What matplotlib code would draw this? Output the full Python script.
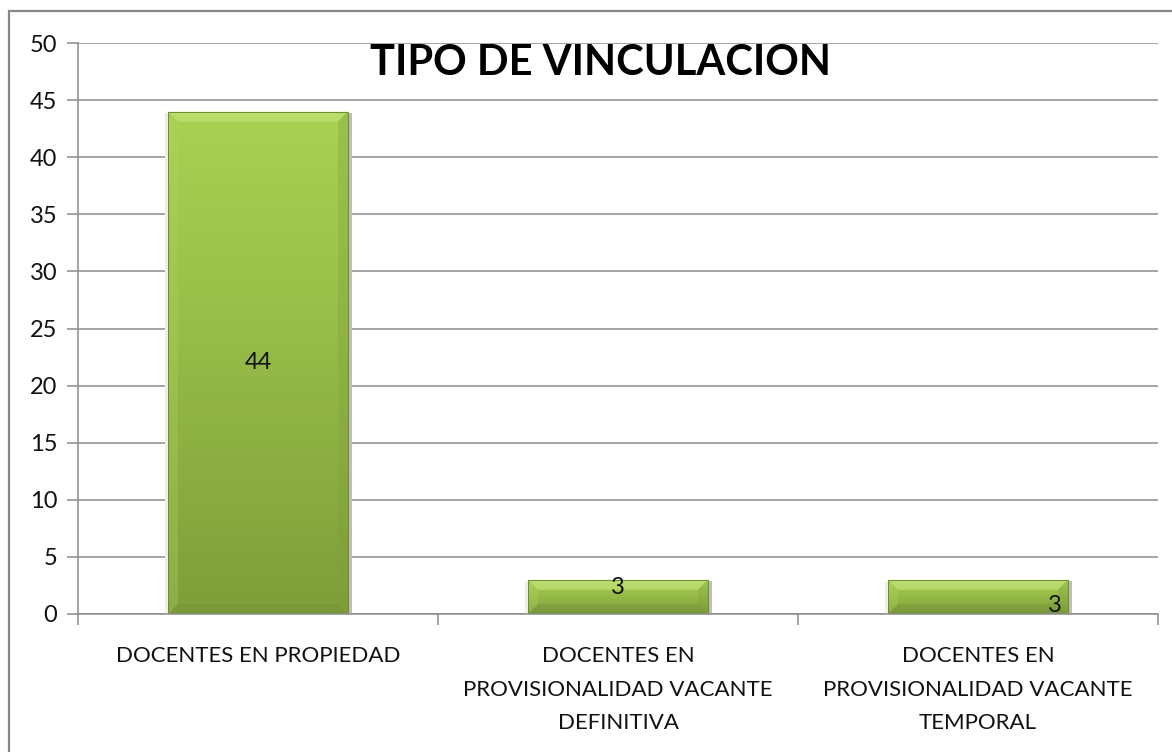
import numpy as np
import matplotlib
matplotlib.use("Agg")
import matplotlib.pyplot as plt
from matplotlib.patches import Polygon, Rectangle
from matplotlib.colors import LinearSegmentedColormap

categories = ["DOCENTES EN PROPIEDAD",
              "DOCENTES EN\nPROVISIONALIDAD VACANTE\nDEFINITIVA",
              "DOCENTES EN\nPROVISIONALIDAD VACANTE\nTEMPORAL"]
values = [44, 3, 3]
title = "TIPO DE VINCULACION"
yticks = [0, 5, 10, 15, 20, 25, 30, 35, 40, 45, 50]

plt.rcParams['font.family'] = ['Lato', 'DejaVu Sans']

W, H = 1172, 752
fig = plt.figure(figsize=(W / 100, H / 100), dpi=100)
fig.patch.set_facecolor("white")
# outer chart border
fig.add_artist(Rectangle((9 / W, -0.05), 1.2, 1 - 11 / H + 0.05, transform=fig.transFigure,
                         fill=False, edgecolor="#878787", linewidth=1.6))

L, R, T, B = 78, 1158, 43, 614
ax = fig.add_axes([L / W, 1 - B / H, (R - L) / W, (B - T) / H])
ax.set_xlim(-0.5, len(categories) - 0.5)
ax.set_ylim(0, 50)
ax.set_yticks(yticks)
ax.set_yticklabels([str(v) for v in yticks], fontsize=17, color="#111111")
ax.yaxis.grid(True, color="#8c8c8c", linewidth=1.1)
ax.set_axisbelow(True)
for s in ["top", "right"]:
    ax.spines[s].set_visible(False)
for s in ["left", "bottom"]:
    ax.spines[s].set_color("#8c8c8c")
    ax.spines[s].set_linewidth(1.1)
ax.tick_params(axis="y", length=8, width=1.1, color="#8c8c8c", pad=7)
# category boundary ticks on x
ax.set_xticks(np.arange(-0.5, len(categories), 1.0))
ax.set_xticklabels([])
ax.tick_params(axis="x", length=8, width=1.1, color="#8c8c8c")
ax.set_xticks(np.arange(len(categories)), minor=True)
ax.set_xticklabels(categories, minor=True, fontsize=16, color="#111111", linespacing=1.85, va="top")
ax.tick_params(axis="x", which="minor", length=0, pad=23)

px_x = (len(categories)) / (R - L)   # data units per pixel
px_y = 50 / (B - T)

cmap = LinearSegmentedColormap.from_list("g", ["#7E9E3A", "#8DB043", "#9CC24B", "#A9D152"])
bw = 0.5
bars = ax.bar(range(len(values)), values, width=bw, color="#9BC04A", zorder=2, linewidth=0)
for i, (b, v) in enumerate(zip(bars, values)):
    x0, x1 = i - bw / 2, i + bw / 2
    # soft shadow
    ax.add_patch(Rectangle((x1, 0), 4 * px_x, v - 1 * px_y, color="#bdbdbd", zorder=1.5, lw=0))
    ax.add_patch(Rectangle((x0 - 3 * px_x, 0), 3 * px_x, v - 1 * px_y, color="#ececec", zorder=1.5, lw=0))
    grad = np.linspace(0, 1, 256).reshape(-1, 1)
    im = ax.imshow(grad, extent=(x0, x1, 0, v), origin="lower", cmap=cmap,
                   aspect="auto", zorder=2.1)
    im.set_clip_path(b)
    d = 10
    dx, dy = d * px_x, d * px_y
    # top bevel (light)
    ax.add_patch(Polygon([(x0, v), (x1, v), (x1 - dx, v - dy), (x0 + dx, v - dy)],
                         closed=True, color="#C6E67E", lw=0, zorder=2.2, alpha=0.6))
    # bottom bevel (dark)
    ax.add_patch(Polygon([(x0, 0), (x1, 0), (x1 - dx, dy), (x0 + dx, dy)],
                         closed=True, color="#6E8B33", lw=0, zorder=2.2, alpha=0.3))
    # left bevel
    ax.add_patch(Polygon([(x0, 0), (x0, v), (x0 + dx, v - dy), (x0 + dx, dy)],
                         closed=True, color="#B0D460", lw=0, zorder=2.2, alpha=0.3))
    # right bevel
    ax.add_patch(Polygon([(x1, 0), (x1, v), (x1 - dx, v - dy), (x1 - dx, dy)],
                         closed=True, color="#7E9E3A", lw=0, zorder=2.2, alpha=0.3))
    ax.add_patch(Rectangle((x0, 0), bw, v, fill=False, edgecolor="#6f8a34", lw=0.7, zorder=2.3))

# data labels (positions as in the reference)
ax.text(0, values[0] / 2, str(values[0]), ha="center", va="center", fontsize=17, color="#111111", zorder=3)
ax.text(1, values[1] - 8 * px_y, str(values[1]), ha="center", va="center", fontsize=17, color="#111111", zorder=3)
ax.text(2 + 77 * px_x, 8 * px_y, str(values[2]), ha="center", va="center", fontsize=17, color="#111111", zorder=3)

ax.text(0.484, 0.965, title, transform=ax.transAxes, ha="center", va="center",
        fontsize=30, fontweight="bold", color="black", zorder=3)

fig.savefig("out.png", dpi=100, facecolor="white")
